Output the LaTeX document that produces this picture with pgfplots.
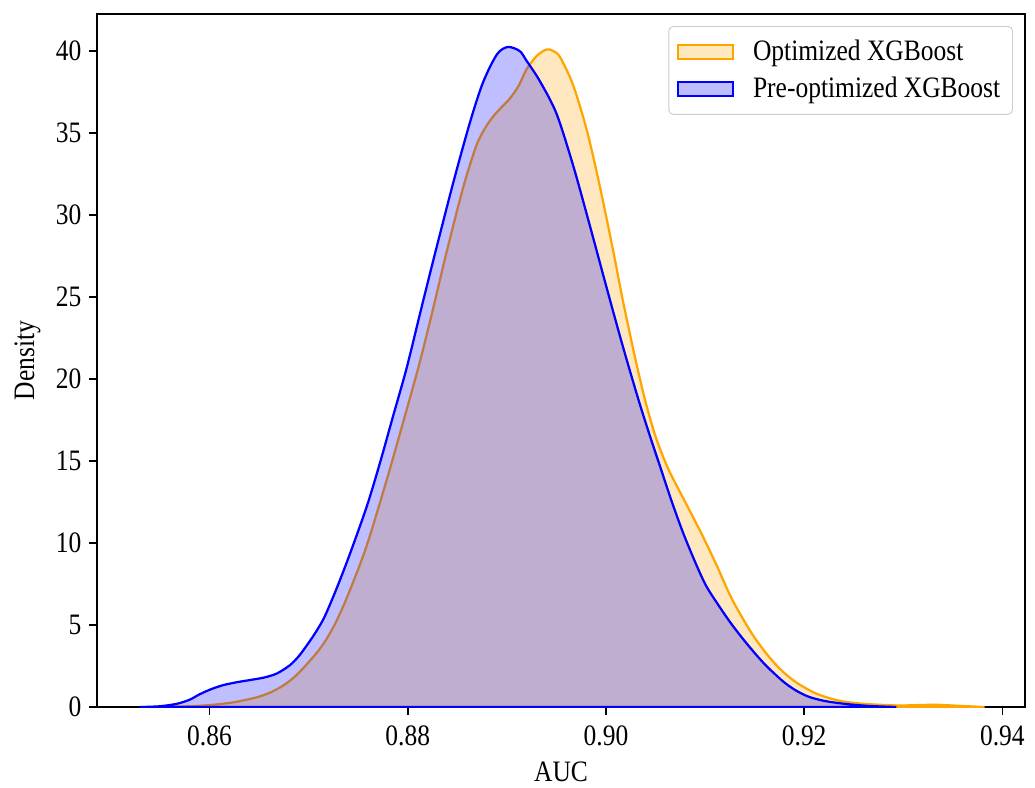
\documentclass[border=0pt]{standalone}
\usepackage{fontspec}
\setmainfont{Liberation Serif}[FakeStretch=0.86]
\usepackage{pgfplots}
\usepackage{pgfplotstable}
\pgfplotsset{compat=1.18}

\definecolor{mplorange}{RGB}{255,165,0}
\definecolor{mplblue}{RGB}{0,0,255}

% KDE curves
\pgfplotstableread{
x y
0.8530 0.00
0.8560 0.02
0.8580 0.05
0.8600 0.12
0.8621 0.26
0.8635 0.42
0.8648 0.60
0.8661 0.88
0.8674 1.30
0.8685 1.80
0.8695 2.40
0.8708 3.30
0.8717 4.05
0.8726 5.00
0.8736 6.30
0.8748 8.10
0.8760 10.1
0.8779 13.9
0.8795 17.3
0.8812 21.0
0.8826 24.4
0.8839 27.7
0.8856 31.7
0.8869 34.2
0.8878 35.3
0.8886 36.0
0.8895 36.6
0.8903 37.1
0.8912 37.9
0.8920 38.9
0.8930 39.7
0.8940 40.1
0.8947 40.0
0.8954 39.6
0.8967 37.9
0.8981 35.1
0.8994 31.7
0.9007 27.9
0.9016 25.1
0.9024 22.8
0.9032 20.6
0.9040 18.6
0.9050 16.5
0.9063 14.5
0.9080 12.5
0.9097 10.5
0.9112 8.6
0.9127 6.6
0.9146 4.6
0.9162 3.25
0.9176 2.30
0.9192 1.50
0.9213 0.80
0.9236 0.38
0.9260 0.20
0.9293 0.10
0.9315 0.12
0.9333 0.14
0.9355 0.08
0.9382 0.00
}\optdata

\pgfplotstableread{
x y
0.8530 0.00
0.8550 0.05
0.8567 0.20
0.8580 0.45
0.8590 0.78
0.8602 1.10
0.8614 1.34
0.8628 1.52
0.8641 1.65
0.8655 1.80
0.8668 2.05
0.8681 2.55
0.8690 3.10
0.8698 3.75
0.8707 4.55
0.8716 5.50
0.8728 7.20
0.8742 9.40
0.8759 12.3
0.8772 14.9
0.8785 17.7
0.8799 20.7
0.8812 23.9
0.8826 27.3
0.8846 32.0
0.8863 35.7
0.8876 38.1
0.8890 39.8
0.8901 40.25
0.8913 40.0
0.8920 39.4
0.8933 38.2
0.8950 36.2
0.8967 33.0
0.8984 29.3
0.9001 25.5
0.9017 22.0
0.9033 18.7
0.9044 16.6
0.9055 14.6
0.9066 12.6
0.9078 10.6
0.9091 8.7
0.9101 7.4
0.9112 6.35
0.9125 5.20
0.9137 4.25
0.9150 3.30
0.9162 2.50
0.9179 1.55
0.9192 1.00
0.9205 0.62
0.9220 0.38
0.9235 0.24
0.9250 0.14
0.9265 0.07
0.9280 0.03
0.9293 0.00
}\predata

\begin{document}
\begin{tikzpicture}
\begin{axis}[
  name=ax,
  width=413pt, height=308.4pt, scale only axis,
  xmin=0.84867, xmax=0.94227, ymin=0, ymax=42.24,
  xtick={0.86,0.88,0.90,0.92,0.94},
  xticklabels={0.86,0.88,0.90,0.92,0.94},
  ytick={0,5,10,15,20,25,30,35,40},
  /pgf/number format/assume math mode=true,
  tick align=outside, xtick pos=bottom, ytick pos=left,
  major tick length=3.5pt,
  every tick/.style={black, line width=0.8pt},
  axis line style={line width=0.8pt},
  tick label style={font=\fontsize{13.2}{15.8}\selectfont},
  xticklabel style={yshift=-1.5pt},
  label style={font=\fontsize{13.2}{15.8}\selectfont},
  xlabel={AUC}, ylabel={Density},
  legend image code/.code={\draw[#1, sharp corners] (0pt,-3pt) rectangle (24.5pt,3pt); \path (31pt,0pt);},
  legend style={at={(1,1)}, anchor=north east, xshift=-5.3pt, yshift=-5.2pt,
    draw=black!20, rounded corners=2pt, fill=white, fill opacity=0.8,
    text opacity=1, font=\fontsize{13.2}{15.8}\selectfont,
    inner xsep=3.5pt, inner ysep=4pt, row sep=1.8pt},
  legend cell align=left,
]
\addplot[draw=mplorange, line width=1pt, fill=mplorange, fill opacity=0.25, smooth]
  table {\optdata} \closedcycle;
\addlegendentry{Optimized XGBoost}
\addplot[draw=mplblue, line width=1pt, fill=mplblue, fill opacity=0.25, smooth]
  table {\predata} \closedcycle;
\addlegendentry{Pre-optimized XGBoost}
\end{axis}
\pgfresetboundingbox
\path ([shift={(-43.3pt,-35.6pt)}]ax.south west) rectangle ([shift={(4.5pt,6.4pt)}]ax.north east);
\end{tikzpicture}
\end{document}
